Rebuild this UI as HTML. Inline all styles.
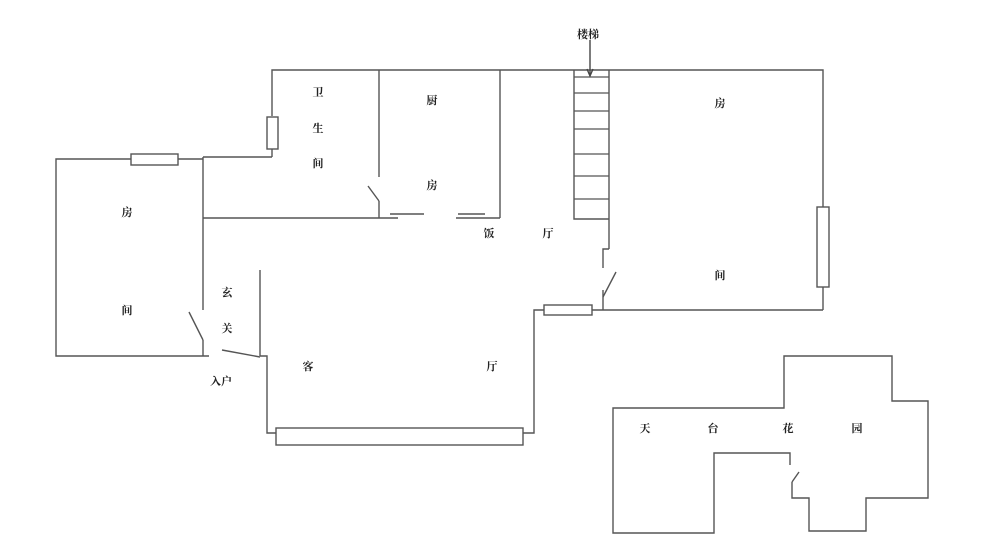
<!DOCTYPE html>
<html><head><meta charset="utf-8"><style>
html,body{margin:0;padding:0;background:#fff;}
svg{display:block;}
text{font-family:"Liberation Serif","Noto Serif CJK SC","Noto Sans CJK SC",serif;font-size:11px;font-weight:bold;fill:#222;text-anchor:middle;}
</style></head><body>
<svg width="1000" height="558" viewBox="0 0 1000 558" xmlns="http://www.w3.org/2000/svg">
<g stroke="#555" stroke-width="1.4" fill="none">
<!-- top wall -->
<polyline points="272,116 272,70 823,70 823,207"/>
<line x1="823" y1="287" x2="823" y2="310"/>
<rect x="817" y="207" width="12" height="80" fill="#fff"/>
<!-- bath left wall with window -->
<line x1="272" y1="149" x2="272" y2="157"/>
<rect x="267" y="117" width="11" height="32" fill="#fff"/>
<polyline points="272,157 203,157"/>
<!-- left room -->
<polyline points="131,159 56,159 56,356 209,356"/>
<line x1="178" y1="159" x2="203" y2="159"/>
<rect x="131" y="154" width="47" height="11" fill="#fff"/>
<line x1="203" y1="157" x2="203" y2="310"/>
<line x1="189" y1="312" x2="203" y2="340"/>
<line x1="203" y1="340" x2="203" y2="356"/>
<!-- middle horizontal -->
<line x1="203" y1="218" x2="398" y2="218"/>
<line x1="390" y1="214" x2="424" y2="214"/>
<line x1="458" y1="214" x2="485" y2="214"/>
<line x1="456" y1="218" x2="500" y2="218"/>
<line x1="379" y1="70" x2="379" y2="177"/>
<line x1="368" y1="186" x2="379" y2="201"/>
<line x1="379" y1="201" x2="379" y2="218"/>
<line x1="500" y1="70" x2="500" y2="218"/>
<!-- stairs -->
<polyline points="574,70 574,219 609,219"/>
<line x1="609" y1="70" x2="609" y2="249"/>
<g stroke-width="1.2">
<line x1="574" y1="77" x2="609" y2="77"/>
<line x1="574" y1="93" x2="609" y2="93"/>
<line x1="574" y1="111" x2="609" y2="111"/>
<line x1="574" y1="129" x2="609" y2="129"/>
<line x1="574" y1="154" x2="609" y2="154"/>
<line x1="574" y1="176" x2="609" y2="176"/>
<line x1="574" y1="199" x2="609" y2="199"/>
</g>
<polyline points="609,249 603,249 603,268"/>
<line x1="603" y1="297" x2="616" y2="272"/>
<line x1="603" y1="290" x2="603" y2="310"/>
<line x1="592" y1="310" x2="823" y2="310"/>
<rect x="544" y="305" width="48" height="10" fill="#fff"/>
<polyline points="544,310 534,310 534,433 523,433"/>
<!-- living bottom -->
<rect x="276" y="428" width="247" height="17" fill="#fff"/>
<polyline points="276,433 267,433 267,356 260,356"/>
<line x1="260" y1="270" x2="260" y2="356"/>
<line x1="222" y1="350" x2="260" y2="357"/>
<!-- arrow -->
<line x1="590" y1="40" x2="590" y2="74" stroke="#444"/>
<polyline points="587,69 590,76 593,69" stroke="#444"/>
<!-- terrace -->
<polyline points="790,465 790,453 714,453 714,533 613,533 613,408 784,408 784,356 892,356 892,401 928,401 928,498 866,498 866,531 809,531 809,498 792,498 792,482"/>
<line x1="792" y1="482" x2="799" y2="472"/>
</g>
<text x="588" y="38">楼梯</text>
<text x="318" y="96">卫</text>
<text x="318" y="132">生</text>
<text x="318" y="167">间</text>
<text x="432" y="104">厨</text>
<text x="432" y="189">房</text>
<text x="127" y="216">房</text>
<text x="127" y="314">间</text>
<text x="227" y="296">玄</text>
<text x="227" y="332">关</text>
<text x="308" y="370">客</text>
<text x="492" y="370">厅</text>
<text x="221" y="385">入户</text>
<text x="489" y="237">饭</text>
<text x="548" y="237">厅</text>
<text x="720" y="107">房</text>
<text x="720" y="279">间</text>
<text x="645" y="432">天</text>
<text x="713" y="432">台</text>
<text x="788" y="432">花</text>
<text x="857" y="432">园</text>
</svg>
</body></html>
